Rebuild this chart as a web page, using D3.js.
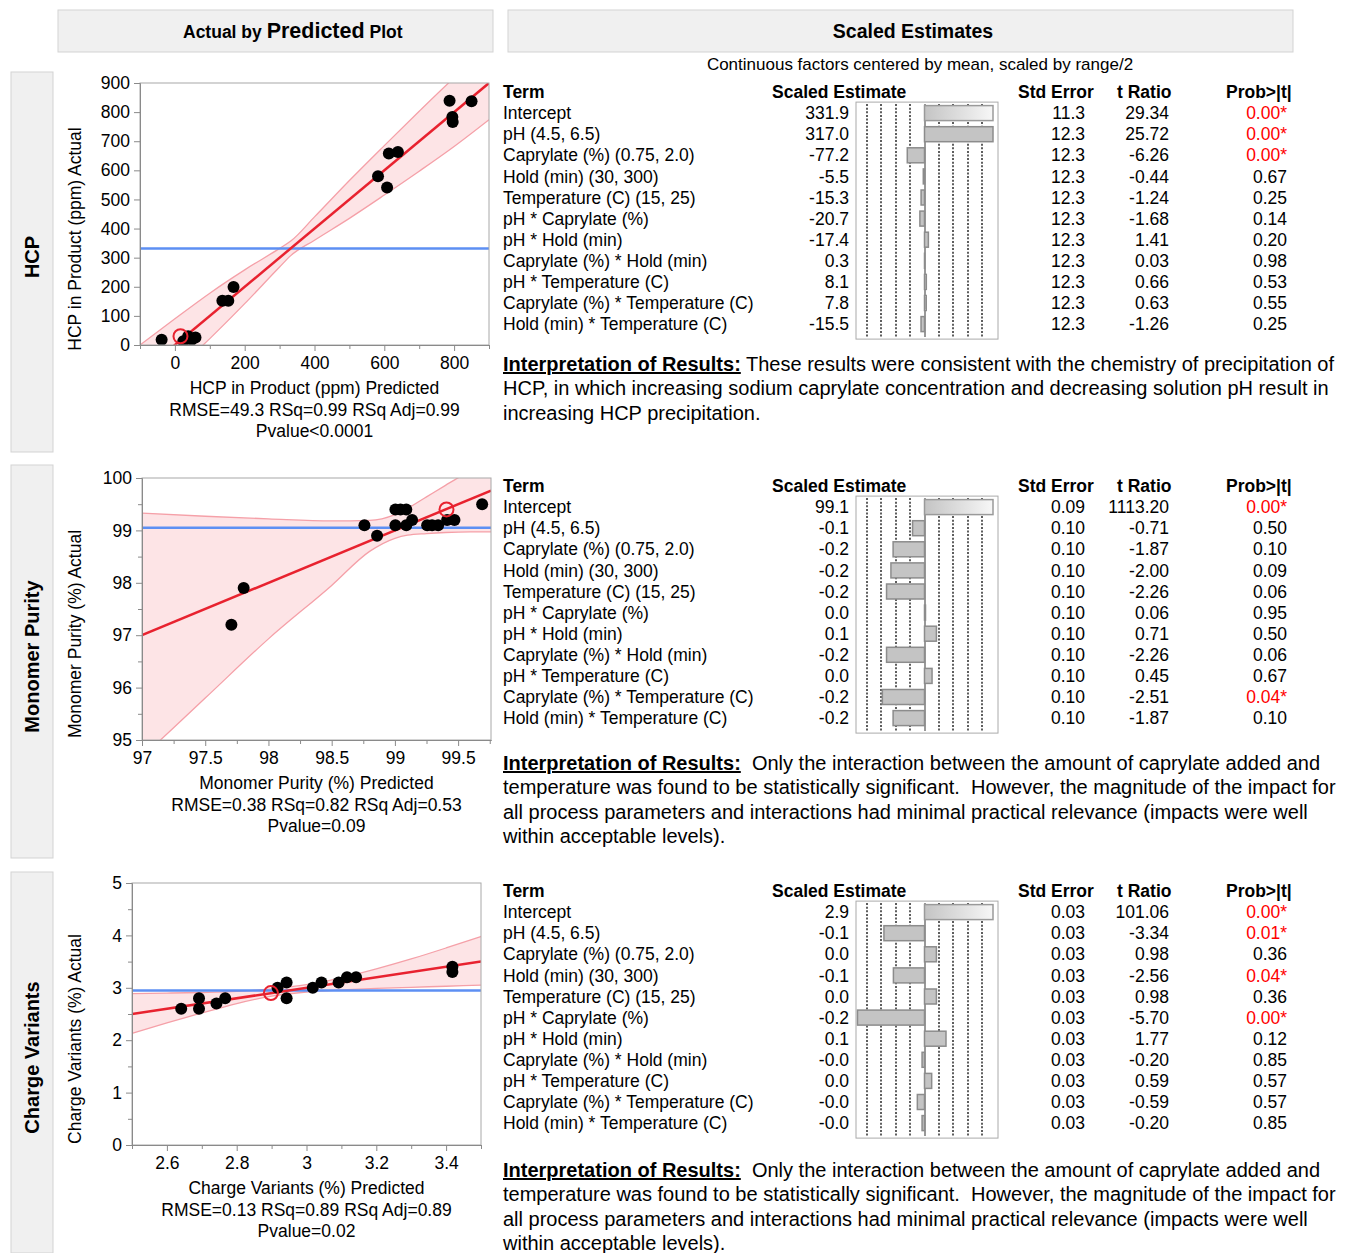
<!DOCTYPE html>
<html>
<head>
<meta charset="utf-8">
<script src="https://cdn.jsdelivr.net/npm/d3@7"></script>
<style>
  body { margin: 0; background: #fff; }
  svg text { font-family: 'Liberation Sans', Arial, Helvetica, sans-serif; fill: #000; }
</style>
</head>
<body>
<svg id="chart" width="1347" height="1253"></svg>
<script>
/* globals d3 */
// ---- data ----
const responses = ['HCP', 'Monomer Purity', 'Charge Variants']
const terms = [
  'Intercept',
  'pH (4.5, 6.5)',
  'Caprylate (%) (0.75, 2.0)',
  'Hold (min) (30, 300)',
  'Temperature (C) (15, 25)',
  'pH * Caprylate (%)',
  'pH * Hold (min)',
  'Caprylate (%) * Hold (min)',
  'pH * Temperature (C)',
  'Caprylate (%) * Temperature (C)',
  'Hold (min) * Temperature (C)',
]

// HCP
const hcpPredicted = [-38, 24, 38, 48, 59, 136, 153, 168, 582, 608, 613, 639, 787, 795, 796, 850]
const hcpActual = [18, 13, 30, 18, 26, 152, 152, 199, 580, 541, 658, 663, 839, 783, 766, 837]
const hcpOpenPoint = [16, 30]
const hcpMean = 331.9
const hcpBandX = [-100, 0, 100, 200, 300, 332, 400, 500, 600, 700, 800, 900]
const hcpBandLo = [-200, -90, 22, 142, 268, 307, 360, 435, 515, 597, 682, 774]
const hcpBandHi = [0, 90, 178, 258, 332, 357, 440, 565, 685, 803, 918, 1026]
const hcpXTicks = [0, 200, 400, 600, 800]
const hcpXMinor = [-100, 100, 300, 500, 700, 900]
const hcpYTicks = [0, 100, 200, 300, 400, 500, 600, 700, 800, 900]
const hcpYMinor = []
const hcpEstimates = ['331.9', '317.0', '-77.2', '-5.5', '-15.3', '-20.7', '-17.4', '0.3', '8.1', '7.8', '-15.5']
const hcpStdError = [11.3, 12.3, 12.3, 12.3, 12.3, 12.3, 12.3, 12.3, 12.3, 12.3, 12.3]
const hcpTRatio = [29.34, 25.72, -6.26, -0.44, -1.24, -1.68, 1.41, 0.03, 0.66, 0.63, -1.26]
const hcpProb = [0, 0, 0, 0.67, 0.25, 0.14, 0.2, 0.98, 0.53, 0.55, 0.25]
const hcpFit = 'RMSE=49.3 RSq=0.99 RSq Adj=0.99'
const hcpPvalue = 'Pvalue<0.0001'
const hcpNotes = [
  ' These results were consistent with the chemistry of precipitation of',
  'HCP, in which increasing sodium caprylate concentration and decreasing solution pH result in',
  'increasing HCP precipitation.',
]

// Monomer purity
const monoPredicted = [97.707, 97.804, 98.759, 98.859, 99.004, 99.044, 99.09, 99.004, 99.09, 99.136, 99.255, 99.294, 99.342, 99.413, 99.471, 99.69]
const monoActual = [97.2, 97.9, 99.1, 98.9, 99.4, 99.4, 99.4, 99.1, 99.1, 99.2, 99.1, 99.1, 99.1, 99.2, 99.2, 99.5]
const monoOpenPoint = [99.408, 99.4]
const monoMean = 99.05
const monoBandX = [97, 97.5, 98, 98.5, 98.8, 99.0, 99.1, 99.25, 99.4, 99.6, 99.76]
const monoBandLo = [94.67, 95.8, 96.93, 97.95, 98.6, 98.85, 98.91, 98.94, 98.96, 98.97, 98.97]
const monoBandHi = [99.33, 99.27, 99.22, 99.18, 99.19, 99.3, 99.42, 99.64, 99.86, 100.15, 100.4]
const monoXTicks = [97, 97.5, 98, 98.5, 99, 99.5]
const monoXMinor = [97.25, 97.75, 98.25, 98.75, 99.25, 99.75]
const monoYTicks = [95, 96, 97, 98, 99, 100]
const monoYMinor = [95.5, 96.5, 97.5, 98.5, 99.5]
const monoEstimates = ['99.1', '-0.1', '-0.2', '-0.2', '-0.2', '0.0', '0.1', '-0.2', '0.0', '-0.2', '-0.2']
const monoStdError = [0.09, 0.1, 0.1, 0.1, 0.1, 0.1, 0.1, 0.1, 0.1, 0.1, 0.1]
const monoTRatio = [1113.2, -0.71, -1.87, -2.0, -2.26, 0.06, 0.71, -2.26, 0.45, -2.51, -1.87]
const monoProb = [0, 0.5, 0.1, 0.09, 0.06, 0.95, 0.5, 0.06, 0.67, 0.04, 0.1]
const monoFit = 'RMSE=0.38 RSq=0.82 RSq Adj=0.53'
const monoPvalue = 'Pvalue=0.09'
const monoNotes = [
  '  Only the interaction between the amount of caprylate added and',
  'temperature was found to be statistically significant.  However, the magnitude of the impact for',
  'all process parameters and interactions had minimal practical relevance (impacts were well',
  'within acceptable levels).',
]

// Charge variants
const chargePredicted = [2.641, 2.692, 2.692, 2.742, 2.767, 2.917, 2.943, 2.943, 3.018, 3.043, 3.092, 3.116, 3.142, 3.418, 3.418]
const chargeActual = [2.6, 2.8, 2.6, 2.7, 2.8, 3.0, 3.1, 2.8, 3.0, 3.1, 3.1, 3.2, 3.2, 3.4, 3.3]
const chargeOpenPoint = [2.898, 2.9]
const chargeMean = 2.95
const chargeBandX = [2.5, 2.6, 2.7, 2.8, 2.9, 3.0, 3.1, 3.2, 3.3, 3.4, 3.5]
const chargeBandLo = [2.13, 2.33, 2.52, 2.7, 2.84, 2.92, 2.96, 2.99, 3.01, 3.03, 3.05]
const chargeBandHi = [2.89, 2.9, 2.91, 2.93, 2.98, 3.06, 3.19, 3.36, 3.55, 3.76, 3.98]
const chargeXTicks = [2.6, 2.8, 3, 3.2, 3.4]
const chargeXMinor = [2.5, 2.7, 2.9, 3.1, 3.3, 3.5]
const chargeYTicks = [0, 1, 2, 3, 4, 5]
const chargeYMinor = [0.5, 1.5, 2.5, 3.5, 4.5]
const chargeEstimates = ['2.9', '-0.1', '0.0', '-0.1', '0.0', '-0.2', '0.1', '-0.0', '0.0', '-0.0', '-0.0']
const chargeStdError = [0.03, 0.03, 0.03, 0.03, 0.03, 0.03, 0.03, 0.03, 0.03, 0.03, 0.03]
const chargeTRatio = [101.06, -3.34, 0.98, -2.56, 0.98, -5.7, 1.77, -0.2, 0.59, -0.59, -0.2]
const chargeProb = [0, 0.01, 0.36, 0.04, 0.36, 0, 0.12, 0.85, 0.57, 0.57, 0.85]
const chargeFit = 'RMSE=0.13 RSq=0.89 RSq Adj=0.89'
const chargePvalue = 'Pvalue=0.02'
const chargeNotes = monoNotes

// ---- assemble per-response configs ----
const panels = [
  {
    name: responses[0], unit: 'HCP in Product (ppm)', predicted: hcpPredicted, actual: hcpActual, open: hcpOpenPoint,
    mean: hcpMean, bandX: hcpBandX, bandLo: hcpBandLo, bandHi: hcpBandHi, xDomain: [-100, 900], yDomain: [0, 900],
    xTicks: hcpXTicks, xMinor: hcpXMinor, yTicks: hcpYTicks, yMinor: hcpYMinor,
    estimates: hcpEstimates, stdError: hcpStdError, tRatio: hcpTRatio, prob: hcpProb, seDigits: 1,
    fit: hcpFit, pvalue: hcpPvalue, notes: hcpNotes, barLimit: 24.9,
  },
  {
    name: responses[1], unit: 'Monomer Purity (%)', predicted: monoPredicted, actual: monoActual, open: monoOpenPoint,
    mean: monoMean, bandX: monoBandX, bandLo: monoBandLo, bandHi: monoBandHi, xDomain: [97, 99.76], yDomain: [95, 100],
    xTicks: monoXTicks, xMinor: monoXMinor, yTicks: monoYTicks, yMinor: monoYMinor,
    estimates: monoEstimates, stdError: monoStdError, tRatio: monoTRatio, prob: monoProb, seDigits: 2,
    fit: monoFit, pvalue: monoPvalue, notes: monoNotes, barLimit: 4.08,
  },
  {
    name: responses[2], unit: 'Charge Variants (%)', predicted: chargePredicted, actual: chargeActual, open: chargeOpenPoint,
    mean: chargeMean, bandX: chargeBandX, bandLo: chargeBandLo, bandHi: chargeBandHi, xDomain: [2.5, 3.5], yDomain: [0, 5],
    xTicks: chargeXTicks, xMinor: chargeXMinor, yTicks: chargeYTicks, yMinor: chargeYMinor,
    estimates: chargeEstimates, stdError: chargeStdError, tRatio: chargeTRatio, prob: chargeProb, seDigits: 2,
    fit: chargeFit, pvalue: chargePvalue, notes: chargeNotes, barLimit: 5.64,
  },
]

const layout = [
  { side: [72, 452], plot: { left: 140, right: 489, top: 83, bottom: 345 }, tableTop: 92, textTop: 364 },
  { side: [465, 858], plot: { left: 142, right: 491, top: 478, bottom: 740 }, tableTop: 486, textTop: 763 },
  { side: [872, 1253], plot: { left: 132, right: 481, top: 883, bottom: 1145 }, tableTop: 891, textTop: 1170 },
]

const svg = d3.select('#chart')
const defs = svg.append('defs')
const grad = defs.append('linearGradient').attr('id', 'intercept-grad')
grad.append('stop').attr('offset', '0%').attr('stop-color', '#c4c4c4')
grad.append('stop').attr('offset', '100%').attr('stop-color', '#f7f7f7')

const FS = 17.5
const panelFill = '#f0f0f0'
const panelStroke = '#d3d3d3'
const tickFormat = d3.format('~g')

// headers
svg.append('rect').attr('x', 58).attr('y', 10).attr('width', 435).attr('height', 42)
  .attr('fill', panelFill).attr('stroke', panelStroke)
svg.append('rect').attr('x', 508).attr('y', 10).attr('width', 785).attr('height', 42)
  .attr('fill', panelFill).attr('stroke', panelStroke)
const h1 = svg.append('text').attr('x', 183).attr('y', 38).attr('font-weight', 'bold')
h1.append('tspan').attr('font-size', 17.5).text('Actual by ')
h1.append('tspan').attr('font-size', 21.5).text('Predicted')
h1.append('tspan').attr('font-size', 17.5).text(' Plot')
svg.append('text').attr('x', 913).attr('y', 38).attr('text-anchor', 'middle')
  .attr('font-weight', 'bold').attr('font-size', 19.5).text('Scaled Estimates')
svg.append('text').attr('x', 920).attr('y', 70).attr('text-anchor', 'middle')
  .attr('font-size', 17).text('Continuous factors centered by mean, scaled by range/2')

function styleAxis(sel) {
  sel.attr('font-size', FS)
  sel.selectAll('path, line').attr('stroke', '#8a8a8a')
}

function drawPlot(p, L, i) {
  const { left, right, top, bottom } = L.plot
  const x = d3.scaleLinear().domain(p.xDomain).range([left, right])
  const y = d3.scaleLinear().domain(p.yDomain).range([bottom, top])
  const g = svg.append('g')

  defs.append('clipPath').attr('id', 'clip' + i)
    .append('rect').attr('x', left).attr('y', top).attr('width', right - left).attr('height', bottom - top)
  const inner = g.append('g').attr('clip-path', `url(#clip${i})`)

  const band = p.bandX.map((v, k) => [v, p.bandLo[k], p.bandHi[k]])
  inner.append('path').datum(band).attr('fill', '#fde4e6')
    .attr('d', d3.area().x((d) => x(d[0])).y0((d) => y(d[1])).y1((d) => y(d[2])).curve(d3.curveMonotoneX))
  for (const idx of [1, 2]) {
    inner.append('path').datum(band).attr('fill', 'none').attr('stroke', '#f5a0a8').attr('stroke-width', 1.3)
      .attr('d', d3.line().x((d) => x(d[0])).y((d) => y(d[idx])).curve(d3.curveMonotoneX))
  }
  inner.append('line').attr('x1', left).attr('x2', right).attr('y1', y(p.mean)).attr('y2', y(p.mean))
    .attr('stroke', '#5d8ff3').attr('stroke-width', 2.5)
  inner.append('line')
    .attr('x1', x(p.xDomain[0])).attr('y1', y(p.xDomain[0]))
    .attr('x2', x(p.xDomain[1])).attr('y2', y(p.xDomain[1]))
    .attr('stroke', '#e8222f').attr('stroke-width', 2.5)

  inner.append('g').selectAll('circle').data(p.predicted).enter().append('circle')
    .attr('cx', (d) => x(d)).attr('cy', (d, k) => y(p.actual[k])).attr('r', 6).attr('fill', '#000')
  inner.append('circle').attr('cx', x(p.open[0])).attr('cy', y(p.open[1])).attr('r', 7)
    .attr('fill', 'none').attr('stroke', '#e8222f').attr('stroke-width', 2)

  g.append('rect').attr('x', left).attr('y', top).attr('width', right - left).attr('height', bottom - top)
    .attr('fill', 'none').attr('stroke', '#a8a8a8')

  g.append('g').attr('transform', `translate(0,${bottom})`)
    .call(d3.axisBottom(x).tickValues(p.xMinor).tickSize(4).tickSizeOuter(0).tickFormat(''))
    .call(styleAxis)
  g.append('g').attr('transform', `translate(0,${bottom})`)
    .call(d3.axisBottom(x).tickValues(p.xTicks).tickSize(6).tickSizeOuter(0).tickPadding(6).tickFormat(tickFormat))
    .call(styleAxis)
  g.append('g').attr('transform', `translate(${left},0)`)
    .call(d3.axisLeft(y).tickValues(p.yMinor).tickSize(4).tickSizeOuter(0).tickFormat(''))
    .call(styleAxis)
  g.append('g').attr('transform', `translate(${left},0)`)
    .call(d3.axisLeft(y).tickValues(p.yTicks).tickSize(6).tickSizeOuter(0).tickPadding(4).tickFormat(tickFormat))
    .call(styleAxis)

  const cx = (left + right) / 2
  g.append('text').attr('transform', `translate(75,${(top + bottom) / 2 + 25}) rotate(-90)`)
    .attr('text-anchor', 'middle').attr('dy', '0.35em').attr('font-size', FS).text(p.unit + ' Actual')
  ;[p.unit + ' Predicted', p.fit, p.pvalue].forEach((t, k) => {
    g.append('text').attr('x', cx).attr('y', bottom + 43 + k * 21.5).attr('dy', '0.35em')
      .attr('text-anchor', 'middle').attr('font-size', FS).text(t)
  })

  // side label
  svg.append('rect').attr('x', 11).attr('y', L.side[0]).attr('width', 42).attr('height', L.side[1] - L.side[0])
    .attr('fill', panelFill).attr('stroke', panelStroke)
  svg.append('text').attr('transform', `translate(32,${(L.side[0] + L.side[1]) / 2 - 5}) rotate(-90)`)
    .attr('text-anchor', 'middle').attr('dy', '0.35em').attr('font-weight', 'bold').attr('font-size', 20)
    .text(p.name)
}

function drawTable(p, L) {
  const g = svg.append('g').attr('font-size', FS)
  const rowY = terms.map((t, k) => L.tableTop + 21.1 * (k + 1))
  const headers = [['Term', 503], ['Scaled Estimate', 772], ['Std Error', 1018], ['t Ratio', 1117], ['Prob>|t|', 1226]]
  for (const [label, hx] of headers) {
    g.append('text').attr('x', hx).attr('y', L.tableTop).attr('dy', '0.35em').attr('font-weight', 'bold').text(label)
  }
  const row = (arr, xPos, anchor, fmt) =>
    g.append('g').selectAll('text').data(arr).enter().append('text')
      .attr('x', xPos).attr('y', (d, k) => rowY[k]).attr('dy', '0.35em').attr('text-anchor', anchor).text(fmt)
  row(terms, 503, 'start', (d) => d)
  row(p.estimates, 849, 'end', (d) => d)
  row(p.stdError, 1085, 'end', (d) => d.toFixed(p.seDigits))
  row(p.tRatio, 1169, 'end', (d) => d.toFixed(2))
  row(p.prob, 1287, 'end', (d) => d.toFixed(2) + (d < 0.05 ? '*' : ''))
    .style('fill', (d) => (d < 0.05 ? '#ff0000' : '#000'))

  // bar chart of scaled estimates
  const zero = 924.5
  const boxL = 856
  const boxR = 998
  const boxTop = rowY[0] - 11
  const boxBottom = rowY[rowY.length - 1] + 15
  g.append('rect').attr('x', boxL).attr('y', boxTop).attr('width', boxR - boxL).attr('height', boxBottom - boxTop)
    .attr('fill', '#fff').attr('stroke', '#aaaaaa')
  const grid = d3.scaleLinear().domain([-4, 4]).range([zero - 57.5, zero + 57.5])
  g.append('g').selectAll('line').data(d3.range(-4, 5)).enter().append('line')
    .attr('x1', (d) => Math.round(grid(d))).attr('x2', (d) => Math.round(grid(d)))
    .attr('y1', boxTop + 2).attr('y2', boxBottom - 2)
    .attr('stroke', (d) => (d === 0 ? '#999' : '#5e5e5e'))
    .attr('stroke-width', 2)
    .attr('stroke-dasharray', (d) => (d === 0 ? null : '2,1.6'))
  const bx = d3.scaleLinear().domain([-p.barLimit, p.barLimit]).range([zero - 68.5, zero + 68.5]).clamp(true)
  const clampX = (v) => Math.max(boxL + 1.5, Math.min(boxR - 1.5, v))
  g.append('g').selectAll('rect').data(p.tRatio).enter().append('rect')
    .attr('x', (d) => clampX(Math.min(bx(d), zero)))
    .attr('width', (d) => Math.abs(clampX(bx(d)) - zero))
    .attr('y', (d, k) => rowY[k] - 7.5)
    .attr('height', 15)
    .attr('fill', (d, k) => (k === 0 ? 'url(#intercept-grad)' : '#c4c4c4'))
    .attr('stroke', (d, k) => (k === 0 ? '#9a9a9a' : '#8c8c8c'))
    .attr('stroke-width', 1.5)

  // interpretation
  p.notes.forEach((line, k) => {
    const t = svg.append('text').attr('x', 503).attr('y', L.textTop + k * 24.4).attr('dy', '0.35em').attr('font-size', 20)
    if (k === 0) {
      t.append('tspan').attr('font-weight', 'bold').attr('text-decoration', 'underline').text('Interpretation of Results:')
    }
    t.append('tspan').attr('xml:space', 'preserve').style('white-space', 'pre').text(line)
  })
}

panels.forEach((p, i) => {
  drawPlot(p, layout[i], i)
  drawTable(p, layout[i])
})
</script>
</body>
</html>
